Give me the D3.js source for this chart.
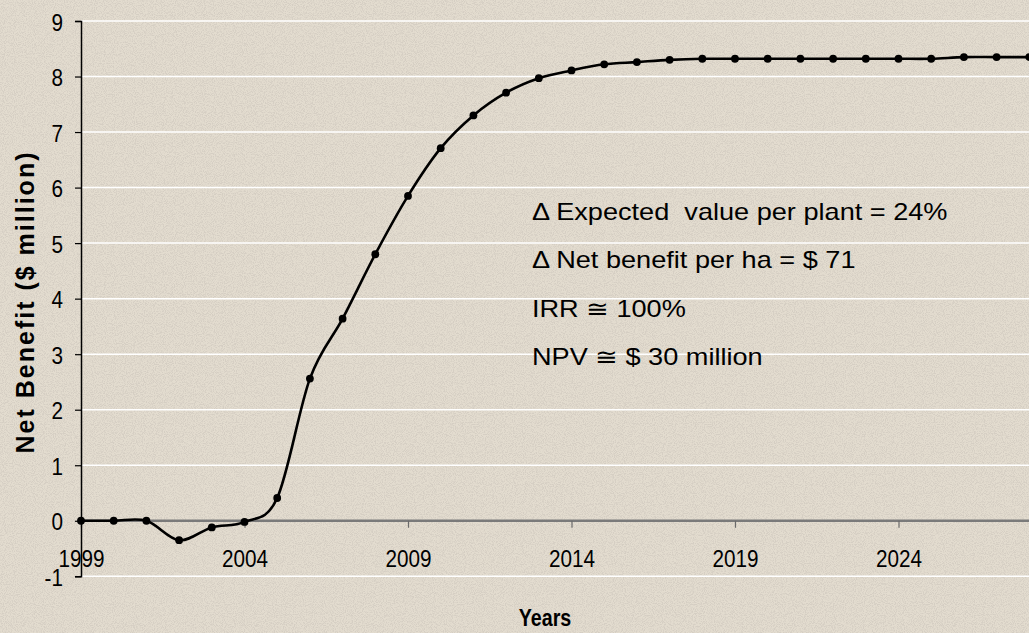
<!DOCTYPE html>
<html>
<head>
<meta charset="utf-8">
<script src="https://cdn.jsdelivr.net/npm/d3@7"></script>
<style>
  body { margin: 0; background: #e2dbce; }
  svg { display: block; }
  text { font-family: "Liberation Sans", Arial, sans-serif; fill: #000; }
</style>
</head>
<body>
<div id="chart"></div>
<script>
// Data
var years = [1999, 2000, 2001, 2002, 2003, 2004, 2005, 2006, 2007, 2008,
             2009, 2010, 2011, 2012, 2013, 2014, 2015, 2016, 2017, 2018,
             2019, 2020, 2021, 2022, 2023, 2024, 2025, 2026, 2027, 2028];
var netBenefit = [0, 0, 0, -0.35, -0.12, -0.02, 0.41, 2.56, 3.64, 4.80,
                  5.85, 6.71, 7.30, 7.71, 7.97, 8.11, 8.22, 8.26, 8.30, 8.32,
                  8.32, 8.32, 8.32, 8.32, 8.32, 8.32, 8.32, 8.35, 8.35, 8.35];
var xTicks = [1999, 2004, 2009, 2014, 2019, 2024];
var yTicks = [-1, 0, 1, 2, 3, 4, 5, 6, 7, 8, 9];
var notes = ["\u0394 Expected  value per plant = 24%",
             "\u0394 Net benefit per ha = $ 71",
             "IRR \u2245 100%",
             "NPV \u2245 $ 30 million"];

var width = 1029, height = 633;

// Set the ranges
var xScale = d3.scaleLinear().domain([1999, 2029]).range([81, 1062]);
var yScale = d3.scaleLinear().domain([-1, 9]).range([576.3, 21]);

var svg = d3.select("#chart").append("svg")
  .attr("width", width)
  .attr("height", height);

// textured background (fine speckles)
var defs = svg.append("defs");
var f = defs.append("filter").attr("id", "grain")
  .attr("x", 0).attr("y", 0).attr("width", "100%").attr("height", "100%");
f.append("feTurbulence").attr("type", "fractalNoise")
  .attr("baseFrequency", 1.1).attr("numOctaves", 1).attr("seed", 7);
f.append("feColorMatrix").attr("type", "matrix")
  .attr("values", "0 0 0 0 0.5  0 0 0 0 0.46  0 0 0 0 0.42  0 0 0 -4 2.3");

svg.append("rect").attr("width", width).attr("height", height).attr("fill", "#e3dccf");
svg.append("rect").attr("width", width).attr("height", height)
  .attr("filter", "url(#grain)").attr("opacity", 0.35);

// white gridlines
svg.append("g").selectAll("line")
  .data(yTicks.filter(function(d) { return d !== 0; }))
  .enter().append("line")
  .attr("x1", xScale(1999)).attr("x2", width)
  .attr("y1", function(d) { return yScale(d); })
  .attr("y2", function(d) { return yScale(d); })
  .attr("stroke", "#ffffff").attr("stroke-width", 1.5);

// X axis on the zero line
var xAxis = d3.axisBottom(xScale).tickValues(xTicks).tickFormat(function(d) { return String(d); })
  .tickSizeInner(7).tickSizeOuter(0).tickPadding(23);
var gx = svg.append("g")
  .attr("transform", "translate(0," + yScale(0) + ")")
  .call(xAxis);
gx.select(".domain").attr("stroke", "#7a7a7a").attr("stroke-width", 2.5)
  .attr("d", "M" + xScale(1999) + ",0H" + width);
gx.selectAll(".tick line").attr("stroke", "#6a6a6a").attr("stroke-width", 1.2);
gx.selectAll(".tick text")
  .style("font-size", "23px")
  .attr("transform", "scale(0.9,1)");

// Y axis
var yAxis = d3.axisLeft(yScale).tickValues(yTicks).tickFormat(function(d) { return String(d); })
  .tickSize(6).tickPadding(12);
var gy = svg.append("g")
  .attr("transform", "translate(" + xScale(1999) + ",0)")
  .call(yAxis);
gy.select(".domain").attr("stroke", "#000").attr("stroke-width", 1.5);
gy.selectAll(".tick line").attr("stroke", "#000").attr("stroke-width", 1.2);
gy.selectAll(".tick text")
  .style("font-size", "23px")
  .attr("transform", "scale(0.9,1)")
  .attr("x", -18 / 0.9)
  .attr("dy", "0.4em");

// the line
var valueline = d3.line()
  .x(function(d, i) { return xScale(years[i]); })
  .y(function(d) { return yScale(d); })
  .curve(d3.curveCardinal.tension(0));

svg.append("path")
  .attr("d", valueline(netBenefit))
  .attr("fill", "none")
  .attr("stroke", "#000")
  .attr("stroke-width", 2.6);

svg.append("g").selectAll("circle")
  .data(netBenefit)
  .enter().append("circle")
  .attr("cx", function(d, i) { return xScale(years[i]); })
  .attr("cy", function(d) { return yScale(d); })
  .attr("r", 3.9)
  .attr("fill", "#000");

// axis titles
svg.append("text")
  .attr("transform", "translate(545,626) scale(0.82,1)")
  .attr("text-anchor", "middle")
  .style("font-size", "24px")
  .style("font-weight", "bold")
  .text("Years");

svg.append("text")
  .attr("transform", "translate(34,302) rotate(-90)")
  .attr("text-anchor", "middle")
  .style("font-size", "25px")
  .style("font-weight", "bold")
  .style("letter-spacing", "2px")
  .text("Net Benefit ($ million)");

// annotation
var ann = svg.append("g").attr("transform", "translate(532,0) scale(1.18,1)");
ann.selectAll("text")
  .data(notes)
  .enter().append("text")
  .attr("x", 0)
  .attr("y", function(d, i) { return 220 + i * 48.5; })
  .attr("xml:space", "preserve")
  .style("white-space", "pre")
  .style("font-size", "23px")
  .text(function(d) { return d; });
</script>
</body>
</html>
